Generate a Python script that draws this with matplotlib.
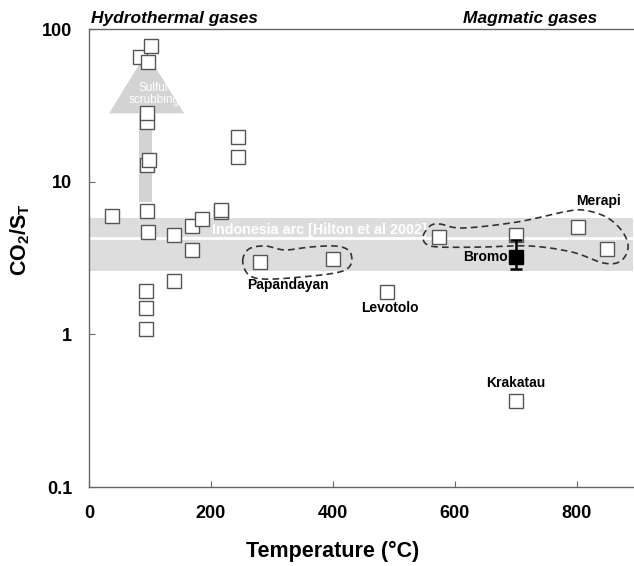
import numpy as np
import matplotlib.pyplot as plt
from matplotlib.ticker import NullLocator

plt.rcParams['font.family'] = ['Liberation Sans', 'DejaVu Sans']
plt.rcParams['font.weight'] = 'bold'
plt.rcParams['mathtext.fontset'] = 'custom'
plt.rcParams['mathtext.rm'] = 'Liberation Sans:bold'
plt.rcParams['mathtext.bf'] = 'Liberation Sans:bold'
plt.rcParams['mathtext.default'] = 'bf'

# gas samples: temperature (degC) and CO2/St
temp = [37, 84, 96, 102, 95, 95, 95, 98, 95, 97, 93, 93, 93, 139, 139, 169, 169,
        186, 216, 216, 244, 244, 281, 400, 489, 574, 700, 802, 849, 700]
ratio = [5.98, 65.2, 60.4, 77.6, 24.6, 28.0, 12.8, 13.8, 6.42, 4.66, 1.92, 1.48, 1.08,
         4.49, 2.23, 5.14, 3.56, 5.71, 6.3, 6.5, 19.7, 14.4, 2.98, 3.10, 1.88, 4.36,
         4.47, 5.02, 3.62, 0.366]

# Bromo (this study)
bromo_t = 700
bromo_r = 3.19
bromo_lo = 2.67
bromo_hi = 4.14

# Indonesia arc range (Hilton et al 2002)
arc_lo, arc_mid, arc_hi = 2.61, 4.3, 5.8

# hand drawn outlines round the volcano groups (temp, ratio)
papandayan_t = [252, 262, 289, 321, 362, 403, 425, 431, 425, 403, 346, 289, 262]
papandayan_r = [3.02, 3.62, 3.79, 3.57, 3.73, 3.79, 3.57, 3.11, 2.72, 2.52, 2.37, 2.30, 2.45]
merapi_t = [548, 559, 575, 613, 702, 777, 810, 848, 874, 884, 872, 844, 792, 723, 646, 575, 553]
merapi_r = [4.40, 5.12, 5.28, 4.97, 5.44, 6.32, 6.52, 5.87, 4.75, 3.73, 3.02, 2.93, 3.46,
            3.79, 3.73, 3.73, 3.90]

# sulfur scrubbing arrow
shaft_t = [82, 104]
shaft_r = [7.4, 28]
head_t = [33, 156, 94]
head_r = [28, 28, 70]


def closed_curve(xs, ys, n=20):
    """Periodic Catmull-Rom curve through the outline points (log y)."""
    p = np.column_stack([xs, np.log10(ys)])
    out = []
    m = len(p)
    for i in range(m):
        p0, p1, p2, p3 = p[i - 1], p[i], p[(i + 1) % m], p[(i + 2) % m]
        for s in np.linspace(0, 1, n, endpoint=False):
            out.append(0.5 * (2 * p1 + (-p0 + p2) * s
                              + (2 * p0 - 5 * p1 + 4 * p2 - p3) * s ** 2
                              + (-p0 + 3 * p1 - 3 * p2 + p3) * s ** 3))
    out.append(out[0])
    out = np.array(out)
    return out[:, 0], 10 ** out[:, 1]


fig = plt.figure(figsize=(6.34, 5.66), dpi=100)
ax = fig.add_axes([89 / 634, 79 / 566, 544 / 634, 458 / 566])

ax.set_yscale('log')
ax.set_xlim(0, 892)
ax.set_ylim(0.1, 100)

ax.axhspan(arc_lo, arc_hi, color='#dddddd', lw=0, zorder=0)
ax.axhline(arc_mid, color='white', lw=2, zorder=1)
ax.text(378, 4.8, 'Indonesia arc [Hilton et al 2002]', color='white', fontsize=10.3,
        ha='center', va='center', zorder=2)

ax.fill([shaft_t[0], shaft_t[1], shaft_t[1], shaft_t[0]],
        [shaft_r[0], shaft_r[0], shaft_r[1], shaft_r[1]], color='#d3d3d3', lw=0, zorder=1)
ax.fill(head_t, head_r, color='#d3d3d3', lw=0, zorder=1)
ax.text(106, 37.5, 'Sulfur\nscrubbing', color='white', fontsize=8.5, fontweight='normal',
        ha='center', va='center', linespacing=1.1, zorder=2)

ax.plot(temp, ratio, ls='none', marker='s', ms=10.5, mfc='white', mec='#555555',
        mew=1.0, zorder=3)

for xs, ys in [(papandayan_t, papandayan_r), (merapi_t, merapi_r)]:
    cx, cy = closed_curve(xs, ys)
    ax.plot(cx, cy, color='#333333', lw=1.2, ls=(0, (4, 2.5)), zorder=4)

ax.errorbar([bromo_t], [bromo_r], yerr=[[bromo_r - bromo_lo], [bromo_hi - bromo_r]],
            fmt='s', ms=10, mfc='black', mec='black', ecolor='black', elinewidth=1.8,
            capsize=4.5, capthick=1.8, zorder=5)

ax.text(326, 2.10, 'Papandayan', fontsize=10, ha='center', va='center')
ax.text(493, 1.49, 'Levotolo', fontsize=10, ha='center', va='center')
ax.text(687, 3.19, 'Bromo', fontsize=10, ha='right', va='center')
ax.text(835, 7.46, 'Merapi', fontsize=10, ha='center', va='center')
ax.text(700, 0.48, 'Krakatau', fontsize=10, ha='center', va='center')

ax.set_xticks([0, 200, 400, 600, 800])
ax.set_yticks([0.1, 1, 10, 100])
ax.set_yticklabels(['0.1', '1', '10', '100'])
ax.yaxis.set_minor_locator(NullLocator())
ax.tick_params(direction='in', length=4, color='#666666', labelsize=13)
ax.tick_params(axis='y', pad=12)
ax.tick_params(axis='x', pad=13)
for side in ['left', 'bottom', 'top']:
    ax.spines[side].set_color('#666666')
    ax.spines[side].set_linewidth(1.0)
ax.spines['right'].set_visible(False)

fig.text(20 / 634, 1 - 240 / 566, 'CO$_2$/S$_T$', rotation=90, fontsize=15.5,
         ha='center', va='center')
fig.text(333 / 634, 1 - 551 / 566, 'Temperature (°C)', fontsize=15.5, ha='center', va='center')
fig.text(91 / 634, 1 - 18 / 566, 'Hydrothermal gases', fontsize=12.5, style='italic',
         ha='left', va='center')
fig.text(597 / 634, 1 - 18 / 566, 'Magmatic gases', fontsize=12.5, style='italic',
         ha='right', va='center')

fig.savefig('out.png', dpi=100)
